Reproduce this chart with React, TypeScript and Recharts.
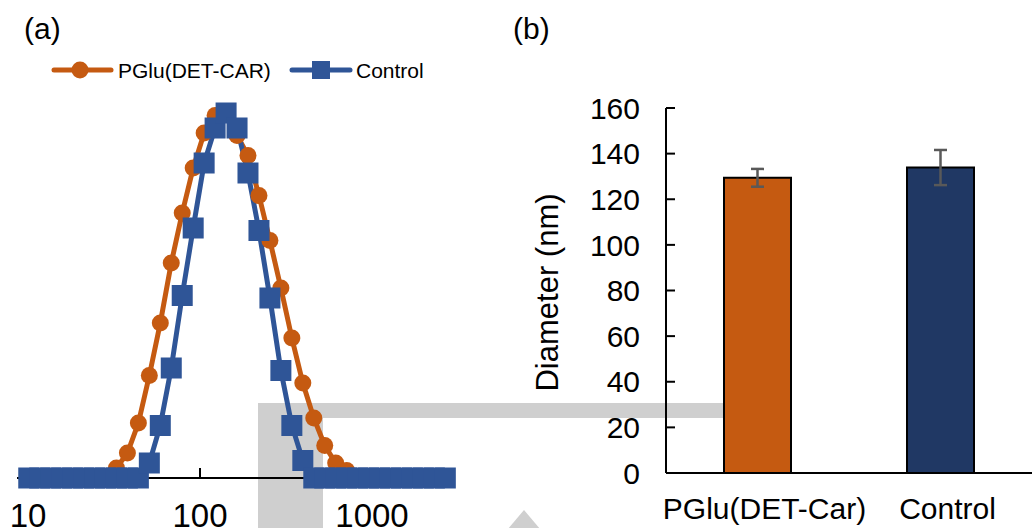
import React from "react";
import {
  LineChart,
  Line,
  XAxis,
  YAxis,
  Legend,
  BarChart,
  Bar,
  Cell,
  ErrorBar,
} from "recharts";

// DLS size bins (nm)
const sizes = [
  10.1, 11.7, 13.54, 15.69, 18.17, 21.04, 24.36, 28.21, 32.67, 37.84, 43.82,
  50.75, 58.77, 68.06, 78.82, 91.28, 105.7, 122.4, 141.8, 164.2, 190.1, 220.2,
  255.0, 295.3, 342.0, 396.1, 458.7, 531.2, 615.1, 712.4, 825.0, 955.4, 1106,
  1281, 1484, 1718, 1990, 2305, 2669,
];

const pgluDist = [
  0, 0, 0, 0, 0, 0, 0, 0, 0.4, 1.0, 2.2, 4.1, 6.2, 8.6, 10.6, 12.4, 13.8, 14.5,
  14.6, 13.7, 12.9, 11.3, 9.5, 7.6, 5.6, 3.8, 2.4, 1.3, 0.6, 0.3, 0, 0, 0, 0, 0,
  0, 0, 0, 0,
];

const controlDist = [
  0, 0, 0, 0, 0, 0, 0, 0, 0, 0, 0, 0.6, 2.1, 4.4, 7.3, 10.0, 12.6, 14.0, 14.6,
  14.0, 12.2, 9.9, 7.2, 4.3, 2.1, 0.7, 0, 0, 0, 0, 0, 0, 0, 0, 0, 0, 0, 0, 0,
];

const sizeTicks = [10, 100, 1000];

const barLabels = ["PGlu(DET-Car)", "Control"];
const barMeans = [129.4, 133.9];
const barErrors = [3.9, 7.7];
const diameterTicks = [0, 20, 40, 60, 80, 100, 120, 140, 160];

const ORANGE = "#C55A11";
const BLUE = "#2F5597";
const NAVY = "#203864";
const GREY = "#cfcfcf";
const FONT = '"Liberation Sans", Arial, Helvetica, sans-serif';
const barColors = [ORANGE, NAVY];

const distData = sizes.map((size, i) => ({
  size,
  pglu: pgluDist[i],
  control: controlDist[i],
}));

const barData = barLabels.map((name, i) => ({
  name,
  mean: barMeans[i],
  err: barErrors[i],
}));

function SquareDot(props: any) {
  const { cx, cy, index } = props;
  if (cx == null || cy == null) return null;
  return (
    <rect
      key={`sq-${index}`}
      x={cx - 10.5}
      y={cy - 10.5}
      width={21}
      height={21}
      fill={BLUE}
    />
  );
}

function DistLegend() {
  return (
    <svg width={440} height={32} style={{ display: "block" }}>
      <line x1={54} x2={111} y1={15} y2={15} stroke={ORANGE} strokeWidth={5} strokeLinecap="round" />
      <circle cx={80} cy={15} r={8.5} fill={ORANGE} />
      <text x={118} y={23} fontSize={21} fontFamily={FONT} fill="#000">
        PGlu(DET-CAR)
      </text>
      <line x1={292} x2={350} y1={15} y2={15} stroke={BLUE} strokeWidth={5} strokeLinecap="round" />
      <rect x={312} y={6} width={18} height={18} fill={BLUE} />
      <text x={356} y={23} fontSize={21} fontFamily={FONT} fill="#000">
        Control
      </text>
    </svg>
  );
}

function DiameterLabel(props: any) {
  const vb = props.viewBox || { x: 0, y: 0, height: 0 };
  const cx = vb.x + 47;
  const cy = vb.y + vb.height / 2 + 2;
  return (
    <text
      x={cx}
      y={cy}
      transform={`rotate(-90 ${cx} ${cy})`}
      textAnchor="middle"
      dominantBaseline="central"
      fontSize={31}
      fontFamily={FONT}
      fill="#000"
    >
      Diameter (nm)
    </text>
  );
}

export default function App() {
  return (
    <div
      style={{
        position: "relative",
        width: 1036,
        height: 528,
        overflow: "hidden",
        background: "#fff",
        fontFamily: FONT,
      }}
    >
      <style>{"body{margin:0}"}</style>

      {/* grey artefacts from the source image, behind both panels */}
      <svg width={1036} height={528} style={{ position: "absolute", left: 0, top: 0 }}>
        <rect x={258} y={403} width={465} height={15} fill={GREY} />
        <rect x={258} y={403} width={65} height={125} fill={GREY} />
        <polygon points="524,510 546,536 502,536" fill={GREY} />
        <text x={24} y={39} fontSize={30} fontFamily={FONT} fill="#000">
          (a)
        </text>
        <text x={513} y={39} fontSize={30} fontFamily={FONT} fill="#000">
          (b)
        </text>
      </svg>

      <div style={{ position: "absolute", left: 0, top: 0 }}>
        <LineChart
          width={470}
          height={528}
          data={distData}
          margin={{ top: 92, right: 15, bottom: 0, left: 17 }}
        >
          <XAxis
            dataKey="size"
            type="number"
            scale="log"
            domain={[8.63, 3038]}
            ticks={sizeTicks}
            interval={0}
            height={50}
            axisLine={{ stroke: "#000", strokeWidth: 2 }}
            tickLine={{ stroke: "#000", strokeWidth: 2 }}
            tickSize={-10}
            tickMargin={36}
            tick={{ fontSize: 33, fill: "#000", fontFamily: FONT }}
          />
          <YAxis hide domain={[0, 15.44]} />
          <Legend
            content={<DistLegend />}
            layout="vertical"
            align="center"
            verticalAlign="middle"
            wrapperStyle={{ position: "absolute", top: 55, left: 0, width: 440 }}
          />
          <Line
            dataKey="pglu"
            stroke={ORANGE}
            strokeWidth={5}
            dot={{ r: 8.5, fill: ORANGE, stroke: ORANGE, strokeWidth: 0 }}
            isAnimationActive={false}
          />
          <Line
            dataKey="control"
            stroke={BLUE}
            strokeWidth={5}
            dot={SquareDot}
            isAnimationActive={false}
          />
        </LineChart>
      </div>

      <div style={{ position: "absolute", left: 500, top: 0 }}>
        <BarChart
          width={536}
          height={528}
          data={barData}
          margin={{ top: 108, right: 4, bottom: 0, left: 0 }}
          barSize={67}
        >
          <XAxis
            dataKey="name"
            interval={0}
            height={55}
            axisLine={{ stroke: "#000", strokeWidth: 2 }}
            tickLine={false}
            tickSize={0}
            tickMargin={25}
            tick={{ fontSize: 30, fill: "#000", fontFamily: FONT, dx: 7 }}
          />
          <YAxis
            domain={[0, 160]}
            ticks={diameterTicks}
            interval={0}
            width={166}
            axisLine={{ stroke: "#000", strokeWidth: 2 }}
            tickLine={{ stroke: "#000", strokeWidth: 2 }}
            tickSize={-9}
            tickMargin={35}
            tick={{ fontSize: 30, fill: "#000", fontFamily: FONT }}
            label={{ content: DiameterLabel }}
          />
          <Bar dataKey="mean" stroke="#000" strokeWidth={2} isAnimationActive={false}>
            {barData.map((d, i) => (
              <Cell key={d.name} fill={barColors[i]} />
            ))}
            <ErrorBar dataKey="err" width={6.5} strokeWidth={2.5} stroke="#595959" />
          </Bar>
        </BarChart>
      </div>
    </div>
  );
}
